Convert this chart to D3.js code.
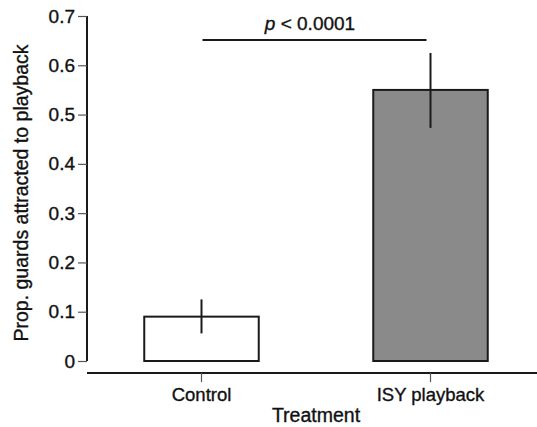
<!DOCTYPE html>
<html>
<head>
<meta charset="utf-8">
<script src="https://cdn.jsdelivr.net/npm/d3@7"></script>
<style>
  html, body { margin: 0; padding: 0; background: #fff; }
  svg { display: block; }
  text { font-family: Helvetica, Arial, "Liberation Sans", sans-serif; fill: #111; stroke: #111; stroke-width: 0.35px; }
</style>
</head>
<body>
<svg id="chart" width="537" height="427"></svg>
<script>
// ---- data ----
const categories = ["Control", "ISY playback"];
const proportions = [0.09, 0.55];
const errLower = [0.056, 0.473];
const errUpper = [0.125, 0.625];
const barFills = ["#ffffff", "#8a8a8a"];
const yTicks = [0, 0.1, 0.2, 0.3, 0.4, 0.5, 0.6, 0.7];
const yTickLabels = ["0", "0.1", "0.2", "0.3", "0.4", "0.5", "0.6", "0.7"];
const xTitle = "Treatment";
const yTitle = "Prop. guards attracted to playback";
const sigLabel = "< 0.0001";

// ---- layout ----
const svg = d3.select("#chart");
const yAxisX = 87, xAxisY = 373;

const x = d3.scaleBand().domain(categories).range([87, 545])
  .paddingInner(0.5).paddingOuter(0.25);
const y = d3.scaleLinear().domain([0, 0.7]).range([361, 16]);

// bars
svg.append("g").selectAll("rect").data(categories).join("rect")
  .attr("x", d => x(d))
  .attr("y", (d, i) => y(proportions[i]))
  .attr("width", x.bandwidth())
  .attr("height", (d, i) => y(0) - y(proportions[i]))
  .attr("fill", (d, i) => barFills[i])
  .attr("stroke", "#1a1a1a")
  .attr("stroke-width", 2);

// error bars
svg.append("g").selectAll("line").data(categories).join("line")
  .attr("x1", d => x(d) + x.bandwidth() / 2)
  .attr("x2", d => x(d) + x.bandwidth() / 2)
  .attr("y1", (d, i) => y(errLower[i]))
  .attr("y2", (d, i) => y(errUpper[i]))
  .attr("stroke", "#1a1a1a")
  .attr("stroke-width", 2);

// y axis
const yAxis = d3.axisLeft(y).tickValues(yTicks)
  .tickFormat((d, i) => yTickLabels[i]).tickSize(9).tickPadding(3);
const gy = svg.append("g").attr("transform", `translate(${yAxisX},0)`).call(yAxis);
gy.select(".domain").attr("d", `M0,${y(0.7)}V${y(0)}`).attr("stroke", "#1a1a1a").attr("stroke-width", 2);
gy.selectAll(".tick line").attr("stroke", "#555").attr("stroke-width", 1.2);
gy.selectAll(".tick text").attr("font-size", 19).attr("fill", "#111")
  .attr("font-family", "Helvetica, Arial, 'Liberation Sans', sans-serif");

// x axis
const xAxis = d3.axisBottom(x).tickSize(9).tickPadding(6);
const gx = svg.append("g").attr("transform", `translate(0,${xAxisY})`).call(xAxis);
gx.select(".domain").attr("d", `M${yAxisX},0H537`).attr("stroke", "#1a1a1a").attr("stroke-width", 2);
gx.selectAll(".tick line").attr("stroke", "#555").attr("stroke-width", 1.2);
gx.selectAll(".tick text").attr("font-size", 18.5).attr("fill", "#111")
  .attr("font-family", "Helvetica, Arial, 'Liberation Sans', sans-serif");

// axis titles
svg.append("text")
  .attr("x", (87 + 545) / 2).attr("y", 422)
  .attr("text-anchor", "middle").attr("font-size", 19.5)
  .text(xTitle);

svg.append("text")
  .attr("transform", `translate(28,${193}) rotate(-90)`)
  .attr("text-anchor", "middle").attr("font-size", 19.5)
  .text(yTitle);

// significance bracket
const c0 = x(categories[0]) + x.bandwidth() / 2;
const c1 = x(categories[1]) + x.bandwidth() / 2;
svg.append("line")
  .attr("x1", c0 + 1).attr("x2", c1 - 4)
  .attr("y1", 40).attr("y2", 40)
  .attr("stroke", "#1a1a1a").attr("stroke-width", 2);

const t = svg.append("text")
  .attr("x", 310).attr("y", 30)
  .attr("text-anchor", "middle").attr("font-size", 19);
t.append("tspan").attr("font-style", "italic").text("p");
t.append("tspan").text(" " + sigLabel);
</script>
</body>
</html>
